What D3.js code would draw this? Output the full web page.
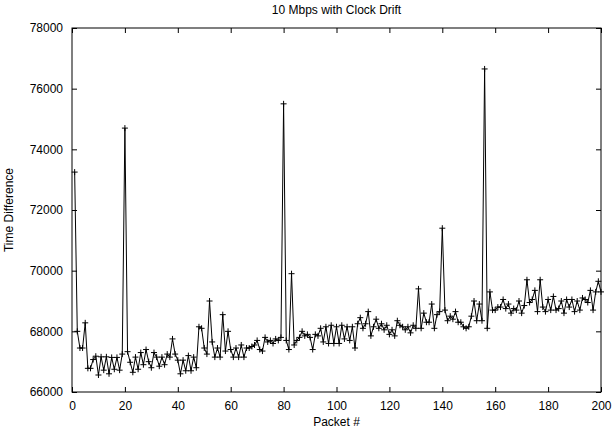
<!DOCTYPE html>
<meta charset="utf-8">
<style>
  body { margin: 0; background: #fff; }
  text { font-family: "Liberation Sans", Arial, sans-serif; font-size: 12px; fill: #000; }
</style>
<script src="https://d3js.org/d3.v7.min.js"></script>
<div id="chart"></div>
<script>
// chart text and ticks
const title = "10 Mbps with Clock Drift";
const xLabel = "Packet #";
const yLabel = "Time Difference";
const xTicks = [0, 20, 40, 60, 80, 100, 120, 140, 160, 180, 200];
const yTicks = [66000, 68000, 70000, 72000, 74000, 76000, 78000];
const firstPacket = 1;

// time difference per packet (packets 1..200)
const timeDiff = [
  73250, 68000, 67450, 67450, 68280, 66780, 66780, 67070, 67180, 66560,
  67160, 66720, 67160, 66600, 67140, 66750, 67140, 66720, 67250, 74700,
  67330, 66980, 66650, 67150, 66750, 67300, 66900, 67400, 67000, 66800,
  67300, 67150, 66850, 67150, 66900, 67250, 67150, 67750, 67250, 67050,
  66600, 67050, 66700, 67200, 66700, 67150, 66800, 68150, 68100, 67450,
  67250, 69000, 67650, 67150, 67450, 67150, 68550, 67350, 68000, 67400,
  67150, 67450, 67150, 67550, 67150, 67450, 67450, 67500, 67550, 67700,
  67400, 67350, 67800, 67650, 67700, 67600, 67750, 67700, 67800, 75500,
  67700, 67400, 69900, 67550, 67700, 67800, 68000, 67850, 67900, 67800,
  67400, 67900, 67850, 68100, 67650, 68150, 67600, 68200, 67600, 68150,
  67600, 68200, 67750, 68150, 67700, 68150, 67450, 68250, 68450, 68100,
  68250, 68650, 67850, 68150, 68400, 68100, 68250, 68050, 68200, 67900,
  68050, 67850, 68350, 68200, 68150, 68050, 68150, 67950, 68200, 68100,
  69400, 68100, 68600, 68300, 68300, 68900, 68100, 68550, 68650, 71400,
  68700, 68350, 68500, 68400, 68650, 68300, 68300, 68150, 68100, 68150,
  68500, 69000, 68350, 68900, 68350, 76650, 68100, 69300, 68700, 68700,
  68800, 68800, 69050, 68750, 68900, 68600, 68750, 68700, 69000, 68600,
  68850, 69700, 68950, 69050, 69350, 68650, 69700, 68800, 68650, 69050,
  68700, 69150, 68700, 68750, 69000, 68600, 69050, 68800, 69050, 68650,
  69000, 68700, 69100, 69050, 68950, 69350, 68700, 69300, 69650, 69300
];

const W = 612, H = 430;
const margin = {top: 28, right: 11, bottom: 38, left: 72};
const width = W - margin.left - margin.right,
      height = H - margin.top - margin.bottom;

const svg = d3.select("#chart").append("svg")
    .attr("width", W)
    .attr("height", H);

const g = svg.append("g")
    .attr("transform", `translate(${margin.left},${margin.top})`);

const x = d3.scaleLinear().domain([0, 200]).range([0, width]);
const y = d3.scaleLinear().domain([66000, 78000]).range([height, 0]);

// axes, ticks pointing inwards like gnuplot
g.append("g")
    .attr("transform", `translate(0,${height})`)
    .call(d3.axisBottom(x).tickValues(xTicks).tickSize(-5).tickPadding(9))
    .call(a => a.select(".domain").remove());
g.append("g")
    .call(d3.axisTop(x).tickValues(xTicks).tickSize(-5).tickFormat(""))
    .call(a => a.select(".domain").remove());
g.append("g")
    .call(d3.axisLeft(y).tickValues(yTicks).tickSize(-5).tickPadding(9).tickFormat(d3.format("d")))
    .call(a => a.select(".domain").remove());
g.append("g")
    .attr("transform", `translate(${width},0)`)
    .call(d3.axisRight(y).tickValues(yTicks).tickSize(-5).tickFormat(""))
    .call(a => a.select(".domain").remove());

g.selectAll(".tick text").attr("font-size", 12).attr("font-family", "Liberation Sans, Arial, sans-serif");
g.selectAll(".tick line").attr("stroke", "#000");

// frame
g.append("rect")
    .attr("x", 0).attr("y", 0)
    .attr("width", width).attr("height", height)
    .attr("fill", "none").attr("stroke", "#000").attr("stroke-width", 1);

// data line
const line = d3.line()
    .x((d, i) => x(i + firstPacket))
    .y(d => y(d));

g.append("path")
    .datum(timeDiff)
    .attr("fill", "none")
    .attr("stroke", "#000")
    .attr("stroke-width", 1)
    .attr("d", line);

// "+" point markers
const s = 3;
g.append("g").selectAll("path")
  .data(timeDiff)
  .join("path")
    .attr("d", (d, i) => {
      const px = x(i + firstPacket), py = y(d);
      return `M${px - s},${py}H${px + s}M${px},${py - s}V${py + s}`;
    })
    .attr("stroke", "#000")
    .attr("stroke-width", 1)
    .attr("fill", "none");

// labels
svg.append("text")
    .attr("x", margin.left + width / 2).attr("y", 14)
    .attr("text-anchor", "middle")
    .text(title);
svg.append("text")
    .attr("x", margin.left + width / 2).attr("y", 426)
    .attr("text-anchor", "middle")
    .text(xLabel);
svg.append("text")
    .attr("transform", `translate(13,${margin.top + height / 2}) rotate(-90)`)
    .attr("text-anchor", "middle")
    .text(yLabel);
</script>
